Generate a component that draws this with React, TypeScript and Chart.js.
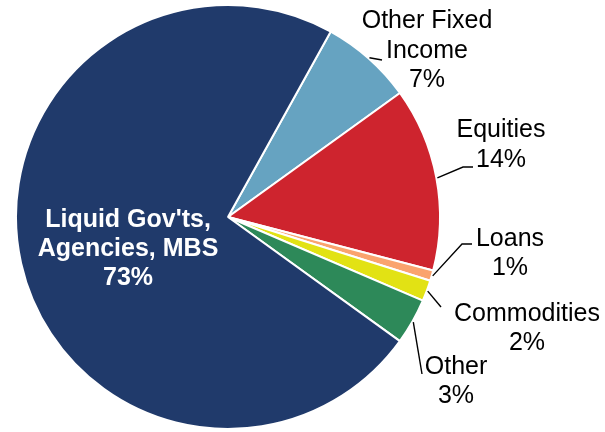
import React, { useEffect, useRef } from "react";
import Chart from "chart.js/auto";

const categories = [
  "Other Fixed Income",
  "Equities",
  "Loans",
  "Commodities",
  "Other",
  "Liquid Gov'ts, Agencies, MBS",
];
const shares = [7.0, 14.0, 0.8, 1.6, 3.5, 73.1];
const shareLabels = ["7%", "14%", "1%", "2%", "3%", "73%"];
const labelLines = [
  ["Other Fixed", "Income", "7%"],
  ["Equities", "14%"],
  ["Loans", "1%"],
  ["Commodities", "2%"],
  ["Other", "3%"],
  ["Liquid Gov'ts,", "Agencies, MBS", "73%"],
];
const colors = ["#66A3C1", "#CE242E", "#FAA36E", "#E2E214", "#2D8959", "#203A6B"];

// label placement (style only)
const labelStyle = [
  { x: 427, y: 28, lh: 29.5, color: "#000", bold: false, leader: [[382, 60]] },
  { x: 501, y: 137, lh: 30, color: "#000", bold: false, leader: [[463, 167], [473, 167]] },
  { x: 510, y: 246, lh: 29, color: "#000", bold: false, leader: [[462, 244], [472, 244]] },
  { x: 527, y: 321, lh: 28.5, color: "#000", bold: false, leader: [[441, 307]] },
  { x: 456, y: 374, lh: 29, color: "#000", bold: false, leader: [[422, 374]] },
  { x: 128, y: 227, lh: 29, color: "#fff", bold: true, leader: null },
];

const labelPlugin = {
  id: "sliceLabels",
  afterDraw(chart: any) {
    const ctx = chart.ctx;
    const meta = chart.getDatasetMeta(0);
    ctx.save();
    meta.data.forEach((arc: any, i: number) => {
      const st = labelStyle[i];
      const p = arc.getProps(["x", "y", "startAngle", "endAngle", "outerRadius"], true);
      const mid = (p.startAngle + p.endAngle) / 2;
      if (st.leader) {
        const sx = p.x + Math.cos(mid) * (p.outerRadius + 1);
        const sy = p.y + Math.sin(mid) * (p.outerRadius + 1);
        ctx.beginPath();
        ctx.strokeStyle = "#000";
        ctx.lineWidth = 1.4;
        ctx.moveTo(sx, sy);
        st.leader.forEach((pt: number[]) => ctx.lineTo(pt[0], pt[1]));
        ctx.stroke();
      }
      const lines = labelLines[i].slice();
      lines[lines.length - 1] = shareLabels[i];
      ctx.fillStyle = st.color;
      ctx.textAlign = "center";
      ctx.textBaseline = "alphabetic";
      ctx.font = (st.bold ? "bold " : "") + "25px 'Liberation Sans', Arial, sans-serif";
      lines.forEach((t: string, k: number) => {
        ctx.fillText(t, st.x, st.y + k * st.lh);
      });
    });
    ctx.restore();
  },
};

export default function App() {
  const ref = useRef<HTMLCanvasElement>(null);
  useEffect(() => {
    if (!ref.current) return;
    const chart = new Chart(ref.current, {
      type: "pie",
      data: {
        labels: categories,
        datasets: [
          {
            data: shares,
            backgroundColor: colors,
            borderColor: "#ffffff",
            borderWidth: 2,
            hoverOffset: 0,
            hoverBorderWidth: 2,
          },
        ],
      },
      options: {
        responsive: false,
        animation: false,
        rotation: 29,
        layout: { padding: { left: 15, top: 4, right: 164, bottom: 2 } },
        plugins: {
          legend: { display: false },
          tooltip: { enabled: false },
        },
        events: [],
      },
      plugins: [labelPlugin],
    });
    return () => chart.destroy();
  }, []);
  return (
    <div style={{ position: "absolute", left: 0, top: 0, width: 605, height: 432, background: "#fff" }}>
      <canvas ref={ref} width={605} height={432} />
    </div>
  );
}
